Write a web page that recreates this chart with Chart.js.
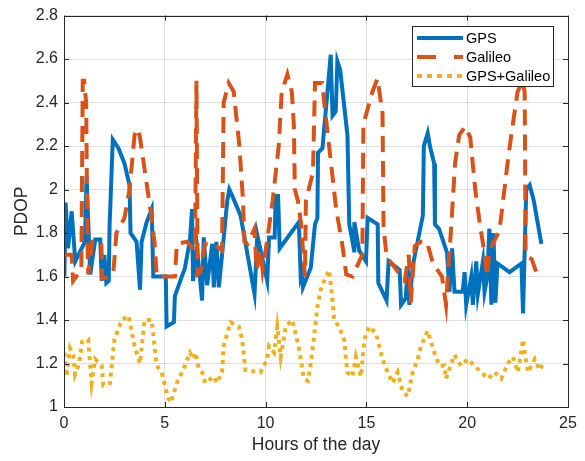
<!DOCTYPE html>
<html>
<head>
<meta charset="utf-8">
<script src="https://cdn.jsdelivr.net/npm/chart.js@4.4.1/dist/chart.umd.min.js"></script>
<style>
  html, body { margin: 0; padding: 0; background: #ffffff; }
  #wrap { width: 585px; height: 461px; position: relative; }
</style>
</head>
<body>
<div id="wrap"><canvas id="c" width="585" height="461"></canvas></div>
<script>
// ---------------- data ----------------
const xTicks = [0, 5, 10, 15, 20, 25];
const yTicks = [1, 1.2, 1.4, 1.6, 1.8, 2, 2.2, 2.4, 2.6, 2.8];
const seriesNames = ['GPS', 'Galileo', 'GPS+Galileo'];

const gpsHours = [0.02,0.08,0.2,0.38,0.56,1.04,1.12,1.3,1.55,1.8,1.87,2.0,2.1,2.22,2.26,2.42,2.7,3.0,3.25,3.3,3.6,3.77,3.85,4.1,4.35,4.43,5.05,5.09,5.45,5.5,6.0,6.25,6.35,6.4,6.6,6.85,6.93,7.1,7.35,7.43,7.56,7.68,7.84,8.1,8.2,8.35,8.76,9.45,9.59,10.08,10.17,10.45,10.5,10.62,10.7,11.65,11.74,11.8,11.85,12.24,12.45,12.57,12.6,12.82,13.23,13.32,13.48,13.56,13.7,14.06,14.15,14.39,14.4,14.64,14.98,15.06,15.56,15.59,16.0,16.1,16.65,16.72,16.95,17.05,17.13,17.3,17.8,17.85,18.04,18.15,18.36,18.4,18.6,19.0,19.12,19.25,19.37,19.78,19.87,19.95,20.2,20.28,20.45,20.53,20.78,20.86,21.0,21.1,21.2,21.3,21.4,21.5,22.1,22.69,22.77,22.93,23.1,23.3,23.68];
const gpsPdop  = [1.60,1.94,1.73,1.90,1.67,1.76,2.06,1.61,1.77,1.77,1.58,1.70,1.57,1.58,1.83,2.23,2.19,2.12,2.02,1.80,1.76,1.54,1.76,1.85,1.91,1.60,1.60,1.37,1.39,1.51,1.64,1.77,1.91,1.58,1.73,1.49,1.78,1.56,1.75,1.55,1.76,1.55,1.70,1.95,2.00,1.97,1.88,1.52,1.79,1.58,1.78,1.78,1.97,1.97,1.73,1.85,1.60,1.62,1.55,1.64,1.84,1.87,2.17,2.19,2.62,2.34,2.36,2.59,2.55,2.25,1.84,1.72,1.85,1.72,1.67,1.87,1.84,1.57,1.49,1.67,1.63,1.47,1.50,1.64,1.47,1.65,1.88,2.20,2.26,2.20,2.12,1.84,1.82,1.71,1.53,1.73,1.53,1.53,1.62,1.47,1.60,1.47,1.67,1.52,1.67,1.53,1.60,1.82,1.47,1.80,1.48,1.66,1.62,1.66,1.43,2.00,2.02,1.95,1.75];

const galHours = [0.02,0.38,0.45,0.86,0.93,1.0,1.1,1.15,1.2,1.4,1.85,1.9,2.3,2.45,2.6,3.0,3.25,3.5,3.6,3.75,4.3,4.5,4.6,5.5,5.6,6.1,6.5,6.57,6.63,6.77,7.0,7.43,7.84,7.92,8.17,8.42,8.7,8.88,8.95,9.1,9.45,9.55,9.75,9.85,10.1,10.35,10.65,10.8,11.08,11.3,11.4,11.45,11.6,11.75,11.95,12.0,12.35,12.45,12.8,13.15,13.5,13.8,14.0,14.3,14.8,14.85,15.3,15.55,15.8,15.85,16.0,16.5,16.9,17.1,17.2,17.4,17.7,18.0,18.3,18.75,18.95,19.05,19.2,19.4,19.6,19.9,20.15,20.4,20.6,20.8,21.0,21.1,21.6,22.0,22.2,22.5,22.75,22.85,22.9,23.2,23.5];
const galPdop  = [1.70,1.70,1.58,1.63,2.50,2.50,2.40,1.83,1.61,1.76,1.76,1.59,1.60,1.62,1.80,1.87,2.00,2.25,2.28,2.25,1.90,1.75,1.60,1.60,1.75,1.76,1.72,2.50,1.61,1.62,1.75,1.75,1.72,2.40,2.49,2.45,2.20,1.95,1.76,1.75,1.82,1.63,1.72,1.63,1.78,1.95,2.20,2.45,2.53,2.45,2.30,2.00,1.95,1.85,1.60,1.95,2.08,2.49,2.49,2.20,1.91,1.75,1.61,1.60,1.70,2.30,2.45,2.51,2.35,1.83,1.69,1.63,1.58,1.70,1.48,1.74,1.76,1.76,1.66,1.60,1.47,1.62,1.82,2.12,2.25,2.29,2.24,2.00,1.86,1.74,1.60,1.72,1.81,2.12,2.26,2.45,2.50,2.45,1.70,1.68,1.60];

const bothHours = [0.02,0.13,0.3,0.46,0.55,0.75,0.9,1.2,1.37,1.55,1.87,1.95,2.28,2.5,2.86,3.2,3.5,3.77,4.0,4.35,4.6,4.84,5.17,5.3,5.6,6.0,6.25,6.43,6.52,6.68,6.85,7.01,7.43,7.59,7.84,7.92,8.26,8.67,8.84,9.0,9.75,10.08,10.17,10.42,10.58,10.75,11.0,11.33,11.66,11.9,12.1,12.24,12.4,12.57,12.74,12.9,13.15,13.32,13.4,13.64,13.89,14.06,14.31,14.48,14.73,14.9,15.14,15.47,15.8,16.05,16.3,16.55,16.8,17.05,17.3,17.55,17.71,18.04,18.37,18.62,18.87,18.95,19.29,19.37,19.7,20.03,20.36,20.7,21.03,21.36,21.69,22.02,22.27,22.52,22.77,22.85,23.02,23.35,23.6,23.76];
const bothPdop  = [1.25,1.14,1.27,1.24,1.15,1.20,1.30,1.31,1.11,1.22,1.19,1.10,1.11,1.31,1.40,1.42,1.28,1.20,1.40,1.40,1.19,1.16,1.04,1.02,1.11,1.19,1.25,1.22,1.25,1.18,1.16,1.11,1.14,1.11,1.16,1.28,1.39,1.37,1.31,1.17,1.16,1.22,1.28,1.25,1.37,1.23,1.37,1.40,1.27,1.13,1.12,1.20,1.32,1.46,1.54,1.58,1.63,1.49,1.40,1.37,1.31,1.16,1.14,1.23,1.14,1.31,1.37,1.34,1.22,1.16,1.11,1.16,1.07,1.05,1.16,1.22,1.28,1.35,1.25,1.19,1.19,1.13,1.22,1.24,1.19,1.22,1.19,1.16,1.13,1.16,1.13,1.20,1.23,1.16,1.31,1.25,1.16,1.22,1.17,1.20];

// ---------------- helpers ----------------
const pairs = (xs, ys) => xs.map((v, i) => ({ x: v, y: ys[i] }));
const TXT = '#262626';
const FONT = "'Liberation Sans', Arial, Helvetica, sans-serif";

const frameAndLegend = {
  id: 'frameAndLegend',
  afterDatasetsDraw(chart) {
    const { ctx, chartArea: a, scales: { x, y } } = chart;
    ctx.save();
    ctx.strokeStyle = TXT;
    ctx.lineWidth = 1;
    ctx.setLineDash([]);
    ctx.beginPath();
    const tl = 5;
    x.ticks.forEach(t => {
      const px = Math.round(x.getPixelForValue(t.value)) + 0.5;
      ctx.moveTo(px, a.bottom); ctx.lineTo(px, a.bottom - tl);
      ctx.moveTo(px, a.top); ctx.lineTo(px, a.top + tl);
    });
    y.ticks.forEach(t => {
      const py = Math.round(y.getPixelForValue(t.value)) + 0.5;
      ctx.moveTo(a.left, py); ctx.lineTo(a.left + tl, py);
      ctx.moveTo(a.right, py); ctx.lineTo(a.right - tl, py);
    });
    ctx.stroke();
    ctx.strokeRect(Math.round(a.left) + 0.5, Math.round(a.top) + 0.5,
                   Math.round(a.right - a.left), Math.round(a.bottom - a.top));
    ctx.restore();
  },
  afterDraw(chart) {
    const { ctx } = chart;
    const bx = 412.5, by = 26.5, bw = 141, bh = 60;
    ctx.save();
    ctx.fillStyle = '#ffffff';
    ctx.fillRect(bx, by, bw, bh);
    ctx.strokeStyle = TXT;
    ctx.lineWidth = 1;
    ctx.setLineDash([]);
    ctx.strokeRect(bx, by, bw, bh);
    const legendDash = [[], [19, 18], [5, 5]];
    chart.data.datasets.forEach((ds, i) => {
      const ry = 38 + i * 19;
      ctx.beginPath();
      ctx.setLineDash(legendDash[i]);
      ctx.lineCap = 'butt';
      ctx.strokeStyle = ds.borderColor;
      ctx.lineWidth = 4;
      ctx.moveTo(417, ry);
      ctx.lineTo(463, ry);
      ctx.stroke();
      ctx.setLineDash([]);
      ctx.fillStyle = '#000000';
      ctx.font = "14.5px " + FONT;
      ctx.textBaseline = 'middle';
      ctx.textAlign = 'left';
      ctx.fillText(ds.label, 466, ry + 1);
    });
    ctx.restore();
  }
};

new Chart(document.getElementById('c'), {
  type: 'line',
  data: {
    datasets: [
      { label: seriesNames[0], data: pairs(gpsHours, gpsPdop), borderColor: '#0072BD',
        borderWidth: 4, pointRadius: 0, tension: 0, fill: false, order: 3 },
      { label: seriesNames[1], data: pairs(galHours, galPdop), borderColor: '#D95319',
        borderWidth: 4, borderDash: [16, 9], pointRadius: 0, tension: 0, fill: false, order: 2 },
      { label: seriesNames[2], data: pairs(bothHours, bothPdop), borderColor: '#EDB120',
        borderWidth: 4, borderDash: [4, 4.5], borderCapStyle: 'butt', pointRadius: 0, tension: 0, fill: false, order: 1 }
    ]
  },
  options: {
    responsive: false,
    animation: false,
    devicePixelRatio: 1,
    layout: { padding: { top: 10, right: 17, left: 0, bottom: 0 } },
    plugins: { legend: { display: false }, tooltip: { enabled: false } },
    scales: {
      x: {
        type: 'linear', min: 0, max: 25,
        afterBuildTicks: s => { s.ticks = xTicks.map(v => ({ value: v })); },
        afterFit: s => { s.height = 54; },
        ticks: { color: TXT, font: { family: FONT, size: 16 }, padding: 7, maxRotation: 0,
                 callback: v => String(v) },
        grid: { color: 'rgba(38,38,38,0.15)', lineWidth: 1, drawTicks: false },
        border: { display: false },
        title: { display: true, text: 'Hours of the day', color: TXT,
                 font: { family: FONT, size: 17.5 }, padding: { top: 0, bottom: 5 } }
      },
      y: {
        type: 'linear', min: 1, max: 2.8,
        afterBuildTicks: s => { s.ticks = yTicks.map(v => ({ value: v })); },
        afterFit: s => { s.width = 64; },
        ticks: { color: TXT, font: { family: FONT, size: 16 }, padding: 6,
                 callback: v => String(Number(v.toFixed(1))) },
        grid: { color: 'rgba(38,38,38,0.15)', lineWidth: 1, drawTicks: false },
        border: { display: false },
        title: { display: true, text: 'PDOP', color: TXT,
                 font: { family: FONT, size: 17.5 }, padding: { top: 12, bottom: 0 } }
      }
    }
  },
  plugins: [frameAndLegend]
});
</script>
</body>
</html>
